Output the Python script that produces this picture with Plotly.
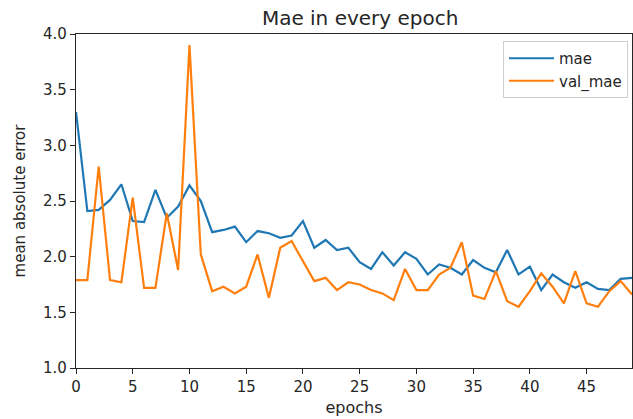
import plotly.graph_objects as go

epochs = list(range(50))
mae = [3.30, 2.41, 2.42, 2.51, 2.65, 2.32, 2.31, 2.60, 2.35, 2.45,
       2.64, 2.50, 2.22, 2.24, 2.27, 2.13, 2.23, 2.21, 2.17, 2.19,
       2.32, 2.08, 2.15, 2.06, 2.08, 1.95, 1.89, 2.04, 1.92, 2.04,
       1.98, 1.84, 1.93, 1.90, 1.84, 1.97, 1.90, 1.86, 2.06, 1.84,
       1.91, 1.70, 1.84, 1.77, 1.72, 1.77, 1.71, 1.70, 1.80, 1.81]
val_mae = [1.79, 1.79, 2.81, 1.79, 1.77, 2.53, 1.72, 1.72, 2.39, 1.88,
           3.90, 2.02, 1.69, 1.73, 1.67, 1.73, 2.02, 1.63, 2.08, 2.14,
           1.96, 1.78, 1.81, 1.70, 1.77, 1.75, 1.70, 1.67, 1.61, 1.89,
           1.70, 1.70, 1.84, 1.90, 2.13, 1.65, 1.62, 1.87, 1.60, 1.55,
           1.69, 1.85, 1.73, 1.58, 1.87, 1.58, 1.55, 1.69, 1.78, 1.66]
x_ticks = [0, 5, 10, 15, 20, 25, 30, 35, 40, 45]
y_ticks = [1.0, 1.5, 2.0, 2.5, 3.0, 3.5, 4.0]

font = "DejaVu Sans"
txt = "#262626"
fig = go.Figure()
fig.add_trace(go.Scatter(x=epochs, y=mae, mode="lines", name="mae",
                         line=dict(color="#1f77b4", width=2.2)))
fig.add_trace(go.Scatter(x=epochs, y=val_mae, mode="lines", name="val_mae",
                         line=dict(color="#ff7f0e", width=2.2)))

axis_common = dict(showline=True, linecolor=txt, linewidth=1.2, mirror=True,
                   ticks="outside", ticklen=5, tickcolor=txt, tickwidth=1.2,
                   showgrid=False, zeroline=False,
                   tickfont=dict(family=font, size=15, color=txt))
fig.update_layout(
    width=633, height=419,
    margin=dict(l=76, r=1, t=34, b=51),
    paper_bgcolor="white", plot_bgcolor="white",
    font=dict(family=font, size=15, color=txt),
    title=dict(text="Mae in every epoch", x=0.569, xanchor="center", xref="container",
               y=0.958, yanchor="middle", yref="container",
               font=dict(family=font, size=20, color=txt)),
    xaxis=dict(range=[0, 49], tickvals=x_ticks,
               title=dict(text="epochs", standoff=6, font=dict(size=16)), **axis_common),
    yaxis=dict(range=[1.0, 4.0], tickvals=y_ticks, tickformat=".1f",
               title=dict(text="mean absolute error", standoff=13, font=dict(size=15)), **axis_common),
    legend=dict(x=0.768, y=0.979, xanchor="left", yanchor="top",
                bgcolor="white", bordercolor="#d0d0d0", borderwidth=1,
                itemwidth=45, tracegroupgap=0,
                font=dict(family=font, size=15, color=txt)),
)
fig.write_html("out.html", config={"displayModeBar": False},
               post_script="document.body.style.margin='0';document.body.style.padding='0';")
